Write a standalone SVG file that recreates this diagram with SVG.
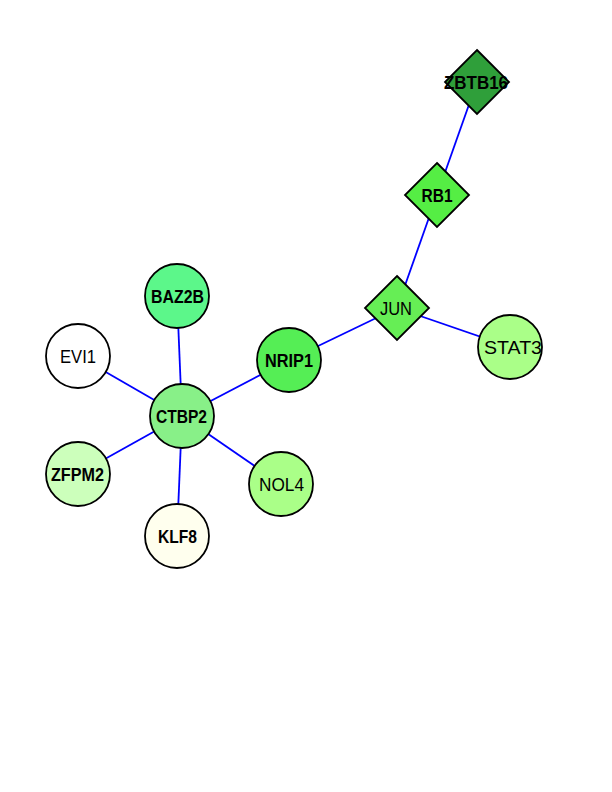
<svg xmlns="http://www.w3.org/2000/svg" width="612" height="792" viewBox="0 0 612 792">
<style>
.e{stroke:#0000ff;stroke-width:1.8;fill:none}
.n{stroke:#000;stroke-width:1.8}
.t{font-family:"Liberation Sans","DejaVu Sans",sans-serif;font-size:18px;font-weight:bold;text-anchor:middle;fill:#000}
.r{font-weight:normal}
</style>
<rect width="612" height="792" fill="#fff"/>
<g id="edges">
<line class="e" x1="477" y1="82" x2="437" y2="195"/>
<line class="e" x1="437" y1="195" x2="397" y2="308"/>
<line class="e" x1="397" y1="308" x2="289" y2="360"/>
<line class="e" x1="397" y1="308" x2="510" y2="347"/>
<line class="e" x1="289" y1="360" x2="182" y2="416"/>
<line class="e" x1="182" y1="416" x2="177" y2="296"/>
<line class="e" x1="182" y1="416" x2="78" y2="356"/>
<line class="e" x1="182" y1="416" x2="78" y2="474"/>
<line class="e" x1="182" y1="416" x2="177" y2="536"/>
<line class="e" x1="182" y1="416" x2="281" y2="484"/>
</g>
<g id="ZBTB16"><polygon class="n" fill="#2f9f3a" points="477,50 509,82 477,114 445,82"/><text class="t" x="476" y="88.5" textLength="64" lengthAdjust="spacingAndGlyphs">ZBTB16</text></g>
<g id="RB1"><polygon class="n" fill="#55ee44" points="437,163 469,195 437,227 405,195"/><text class="t" x="437" y="201.5" textLength="31" lengthAdjust="spacingAndGlyphs">RB1</text></g>
<g id="JUN"><polygon class="n" fill="#66ee55" points="397,276 429,308 397,340 365,308"/><text class="t r" x="396" y="314.5" textLength="32" lengthAdjust="spacingAndGlyphs">JUN</text></g>
<g id="STAT3"><circle class="n" fill="#aaff88" cx="510" cy="347" r="32"/><text class="t r" x="513" y="353.5" textLength="58" lengthAdjust="spacingAndGlyphs">STAT3</text></g>
<g id="NRIP1"><circle class="n" fill="#55ee55" cx="289" cy="360" r="32"/><text class="t" x="289" y="366.5" textLength="48" lengthAdjust="spacingAndGlyphs">NRIP1</text></g>
<g id="BAZ2B"><circle class="n" fill="#5cf78a" cx="177" cy="296" r="32"/><text class="t" x="177.5" y="302.5" textLength="53" lengthAdjust="spacingAndGlyphs">BAZ2B</text></g>
<g id="EVI1"><circle class="n" fill="#ffffff" cx="78" cy="356" r="32"/><text class="t r" x="78" y="362.5" textLength="36" lengthAdjust="spacingAndGlyphs">EVI1</text></g>
<g id="CTBP2"><circle class="n" fill="#88f088" cx="182" cy="416" r="32"/><text class="t" x="181.5" y="422.5" textLength="51" lengthAdjust="spacingAndGlyphs">CTBP2</text></g>
<g id="ZFPM2"><circle class="n" fill="#ccffbb" cx="78" cy="474" r="32"/><text class="t" x="77.5" y="480.5" textLength="53" lengthAdjust="spacingAndGlyphs">ZFPM2</text></g>
<g id="KLF8"><circle class="n" fill="#ffffee" cx="177" cy="536" r="32"/><text class="t" x="177.5" y="542.5" textLength="39" lengthAdjust="spacingAndGlyphs">KLF8</text></g>
<g id="NOL4"><circle class="n" fill="#aaff88" cx="281" cy="484" r="32"/><text class="t r" x="281.5" y="490.5" textLength="45" lengthAdjust="spacingAndGlyphs">NOL4</text></g>
</svg>
